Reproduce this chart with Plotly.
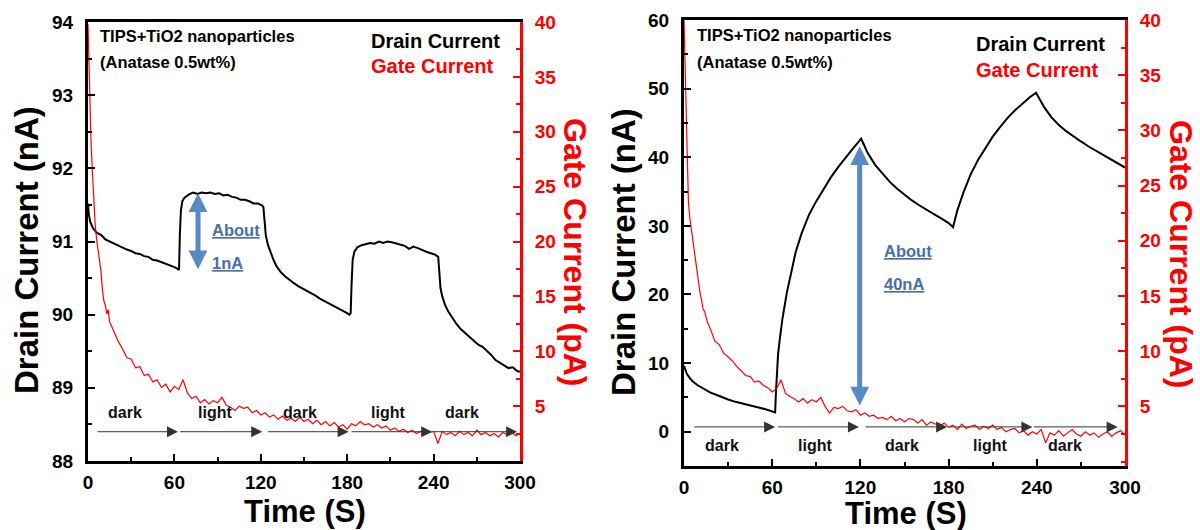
import plotly.graph_objects as go

# ---------------- Left panel data ----------------
t_drain_left = [0, 0.5, 1.5, 3.5, 6, 9, 12, 15, 18, 21, 24, 27, 30, 33, 36, 39, 42, 45, 48, 51, 54, 57, 60, 62,
                63.2, 63.8, 64.5, 65.5, 67, 70, 73, 76, 79, 82, 85, 88, 91, 94, 97, 100, 103, 106, 109, 112, 115,
                118, 121, 121.8, 122.6, 123.5, 125, 127, 129, 131, 134, 137, 140, 143, 146, 149, 152, 155, 158,
                161, 164, 167, 170, 173, 176, 179, 181.5, 182.4, 183, 183.8, 185, 187, 190, 193, 196, 199, 202,
                205, 208, 211, 214, 217, 220, 223, 226, 229, 232, 235, 238, 241, 243.2, 244, 244.8, 246, 248,
                250, 253, 256, 259, 262, 265, 268, 271, 274, 277, 280, 283, 286, 289, 292, 295, 298, 300]
drain_left = [91.52, 91.38, 91.27, 91.18, 91.12, 91.09, 91.03, 91.00, 90.97, 90.95, 90.91, 90.89, 90.87, 90.84,
              90.83, 90.80, 90.79, 90.75, 90.74, 90.72, 90.69, 90.68, 90.65, 90.63,
              90.61, 91.10, 91.42, 91.55, 91.60, 91.64, 91.67, 91.65, 91.67, 91.66, 91.67, 91.65, 91.66, 91.63,
              91.64, 91.61, 91.60, 91.57, 91.57, 91.55, 91.52, 91.52, 91.49, 91.47, 91.25, 91.08, 90.95, 90.83,
              90.74, 90.66, 90.58, 90.52, 90.47, 90.43, 90.39, 90.36, 90.32, 90.30, 90.26, 90.22, 90.19, 90.15,
              90.12, 90.09, 90.06, 90.03, 90.00, 90.02, 90.40, 90.75, 90.86, 90.92, 90.95, 90.96, 90.98, 90.97,
              91.00, 90.98, 91.00, 90.99, 90.97, 90.96, 90.94, 90.90, 90.93, 90.91, 90.88, 90.86, 90.84, 90.82,
              90.79, 90.55, 90.36, 90.25, 90.13, 90.05, 89.95, 89.87, 89.80, 89.75, 89.70, 89.64, 89.59, 89.56,
              89.51, 89.45, 89.38, 89.34, 89.31, 89.27, 89.28, 89.23, 89.22]

t_gate_left = [0, 1, 2, 3, 4, 5, 6, 7, 8, 9, 10, 11, 12, 13, 14, 15, 16,
               18, 21, 24, 27, 30, 33, 36, 39, 42, 45, 48, 51, 54, 57, 60, 63, 66, 69, 72, 75, 78, 81, 84, 87,
               90, 93, 96, 99, 102, 105, 108, 111, 114, 117, 120, 123, 126, 129, 132, 135, 138, 141, 144, 147,
               150, 153, 156, 159, 162, 165, 168, 171, 174, 177, 180, 183, 186, 189, 192, 195, 198, 201, 204,
               207, 210, 213, 216, 219, 222, 225, 228, 231, 234, 237, 240, 243, 246, 249, 252, 255, 258, 261,
               264, 267, 270, 273, 276, 279, 282, 285, 288, 291, 294, 297, 300]
gate_left = [39.8, 33.0, 29.5, 26.5, 23.5, 21.5, 20.2, 19.3, 18.4, 17.3, 15.6, 14.6, 14.2, 13.4, 13.8, 12.7, 12.4,
             11.8, 10.9, 10.2, 9.4, 9.3, 8.5, 8.6, 7.8, 7.9, 7.2, 7.4, 6.7, 7.0, 6.3, 6.8, 6.5, 7.4, 6.2, 5.7,
             5.9, 5.3, 5.6, 5.2, 5.5, 5.3, 5.8, 5.1, 4.9, 4.6, 5.0, 4.8, 4.9, 4.4, 4.6, 4.2, 4.4, 4.0, 4.2, 3.8,
             4.1, 3.7, 3.9, 3.6, 4.0, 3.6, 3.8, 3.4, 3.7, 3.3, 3.6, 3.2, 3.5, 3.1, 3.3, 2.9, 3.4, 3.2, 3.6, 3.3,
             3.4, 3.1, 3.3, 3.0, 3.2, 2.8, 3.0, 2.7, 2.9, 2.6, 2.8, 2.5, 2.7, 2.4, 2.6, 2.7, 1.6, 2.7, 2.4, 2.6,
             2.3, 2.7, 2.4, 2.6, 2.3, 2.8, 2.4, 2.6, 2.3, 2.5, 2.2, 2.6, 2.4, 2.7, 2.3, 2.5]

# ---------------- Right panel data ----------------
t_drain_right = [0, 1, 2, 4, 6, 9, 12, 15, 18, 21, 25, 30, 35, 40, 45, 50, 55, 58, 61, 62, 62.6, 63.2, 64, 65,
                 67, 70, 73, 76, 80, 85, 90, 95, 100, 105, 110, 115, 119, 120.5, 122, 125, 130, 135, 140, 145,
                 150, 155, 160, 165, 170, 175, 180, 183, 184, 186, 190, 195, 200, 205, 210, 215, 220, 225, 230,
                 235, 239.5, 241, 245, 250, 255, 260, 265, 270, 275, 280, 285, 290, 295, 300]
drain_right = [9.6, 8.9, 8.4, 7.8, 7.3, 6.8, 6.4, 6.0, 5.7, 5.45, 5.1, 4.7, 4.35, 4.05, 3.8, 3.55, 3.3, 3.1, 2.9,
               2.8, 6.0, 9.0, 11.3, 13.2, 16.5, 20.3, 23.5, 26.2, 28.9, 31.6, 33.6, 35.4, 37.1, 38.6, 40.0, 41.3,
               42.3, 42.7, 42.0, 40.6, 38.9, 37.6, 36.4, 35.4, 34.5, 33.7, 33.0, 32.3, 31.7, 31.1, 30.4, 29.8,
               30.6, 32.3, 34.8, 37.5, 39.6, 41.4, 43.0, 44.4, 45.7, 46.8, 47.8, 48.7, 49.4, 48.8, 47.3, 45.8,
               44.7, 43.8, 43.0, 42.3, 41.6, 41.0, 40.4, 39.7, 39.1, 38.5]

t_gate_right = t_gate_left
gate_right = [40.0, 33.5, 28.0, 23.5, 22.0, 21.0, 20.0, 19.2, 18.3, 17.0, 15.8, 15.2, 14.6, 13.8, 13.6, 13.1, 12.6,
              12.0, 10.9, 10.6, 9.8, 9.5, 9.1, 8.6, 8.2, 7.8, 7.7, 7.2, 7.3, 6.9, 6.7, 6.3, 6.6, 7.4, 6.2, 5.9,
              5.7, 5.4, 5.7, 5.3, 5.6, 5.4, 5.8, 5.0, 4.4, 4.9, 4.8, 5.0, 4.6, 4.5, 4.7, 4.2, 4.4, 4.1, 4.2, 3.9,
              4.0, 3.8, 4.1, 3.7, 3.9, 3.6, 3.9, 3.8, 3.5, 3.8, 3.3, 3.6, 3.4, 3.2, 3.5, 3.1, 3.3, 2.9, 3.4, 3.0,
              3.2, 3.3, 2.9, 3.2, 3.0, 3.3, 2.9, 3.1, 2.7, 2.9, 3.0, 2.6, 2.8, 2.4, 2.7, 2.5, 2.9, 1.7, 2.6, 2.4,
              2.8, 2.3, 2.6, 2.9, 2.5, 2.3, 2.7, 2.4, 2.6, 2.2, 2.5, 2.7, 2.3, 2.6, 2.8, 2.4]

# ---------------- Annotations data ----------------
x_ticks = [0, 60, 120, 180, 240, 300]
phase_labels = ["dark", "light", "dark", "light", "dark"]
phase_start_left = [5.6, 63, 124, 182, 239]
phase_end_left = [62.5, 121, 181, 239, 298]
phase_label_x_left = [26, 88, 147, 208, 260]
phase_arrow_y_left = 88.4
phase_label_y_left = 88.66
phase_start_right = [6, 63, 122.5, 180, 237]
phase_end_right = [62, 119, 179, 237, 295]
phase_label_x_right = [26, 89, 148, 208, 259]
phase_arrow_y_right = 0.7
phase_label_y_right = -2.0

W, H = 1200, 530
FONT = "Arial, 'Liberation Sans', sans-serif"
RED = "#FF0000"
BLUE_ARROW = "#5A88C4"
BLUE_TEXT = "#4A6EA6"


def px(xp):
    return xp / W


def py(yp):
    return 1 - yp / H


fig = go.Figure()
fig.add_trace(go.Scatter(x=t_drain_left, y=drain_left, mode="lines", line=dict(color="black", width=2),
                         xaxis="x", yaxis="y", showlegend=False))
fig.add_trace(go.Scatter(x=t_gate_left, y=gate_left, mode="lines", line=dict(color=RED, width=1.2),
                         xaxis="x", yaxis="y2", showlegend=False))
fig.add_trace(go.Scatter(x=t_drain_right, y=drain_right, mode="lines", line=dict(color="black", width=2),
                         xaxis="x2", yaxis="y3", showlegend=False))
fig.add_trace(go.Scatter(x=t_gate_right, y=gate_right, mode="lines", line=dict(color=RED, width=1.2),
                         xaxis="x2", yaxis="y4", showlegend=False))

tickfont_k = dict(family=FONT, size=19, color="black", weight="bold")
tickfont_r = dict(family=FONT, size=19, color=RED, weight="bold")


def xax(domain, anchor):
    return dict(domain=domain, anchor=anchor, range=[0, 300], tickvals=x_ticks, ticks="inside", ticklen=7,
                tickwidth=2, tickcolor="black", minor=dict(dtick=30, tick0=0, ticks="inside", ticklen=4,
                                                           tickwidth=2, tickcolor="black"),
                showline=True, linewidth=3, linecolor="black", mirror=True, showgrid=False, zeroline=False,
                tickfont=tickfont_k, ticklabelstandoff=2, automargin=False, fixedrange=True)


def yax(domain, anchor, rng, dtick, mdtick, tick0):
    return dict(domain=domain, anchor=anchor, range=rng, dtick=dtick, tick0=tick0, ticks="inside", ticklen=7,
                tickwidth=2, tickcolor="black",
                minor=dict(dtick=mdtick, tick0=tick0, ticks="inside", ticklen=4, tickwidth=2, tickcolor="black"),
                showline=True, linewidth=3, linecolor="black", showgrid=False, zeroline=False,
                tickfont=tickfont_k, ticklabelstandoff=8, automargin=False, fixedrange=True)


def yax_r(overlay, anchor, rng):
    return dict(overlaying=overlay, anchor=anchor, side="right", range=rng, dtick=5, tick0=0, ticks="inside",
                ticklen=7, tickwidth=2, tickcolor=RED,
                minor=dict(dtick=2.5, tick0=0, ticks="inside", ticklen=4, tickwidth=2, tickcolor=RED),
                showline=True, linewidth=3, linecolor=RED, showgrid=False, zeroline=False,
                tickfont=tickfont_r, ticklabelstandoff=8, automargin=False, fixedrange=True,
                tickvals=[5, 10, 15, 20, 25, 30, 35, 40])


dom_y_left = [py(461), py(22)]
dom_y_right = [py(466), py(20)]

fig.update_layout(
    width=W, height=H, margin=dict(l=0, r=0, t=0, b=0),
    paper_bgcolor="white", plot_bgcolor="white",
    xaxis=xax([px(88), px(520)], "y"),
    yaxis=yax(dom_y_left, "x", [88, 94], 1, 0.5, 88),
    yaxis2=yax_r("y", "x", [0, 40]),
    xaxis2=xax([px(684), px(1125)], "y3"),
    yaxis3=yax(dom_y_right, "x2", [-5, 60], 10, 5, 0),
    yaxis4=yax_r("y3", "x2", [-0.4, 40]),
)

ann = []
# panel texts
for x0, y1, y2 in [(98, 36, 62), (695, 35, 62)]:
    ann.append(dict(xref="paper", yref="paper", x=px(x0), y=py(y1), xanchor="left", yanchor="middle",
                    text="TIPS+TiO2 nanoparticles", showarrow=False,
                    font=dict(family=FONT, size=16.5, color="black", weight="bold")))
    ann.append(dict(xref="paper", yref="paper", x=px(x0), y=py(y2), xanchor="left", yanchor="middle",
                    text="(Anatase 0.5wt%)", showarrow=False,
                    font=dict(family=FONT, size=16.5, color="black", weight="bold")))
for x0, y1, y2 in [(369, 41, 66), (974, 44, 70)]:
    ann.append(dict(xref="paper", yref="paper", x=px(x0), y=py(y1), xanchor="left", yanchor="middle",
                    text="Drain Current", showarrow=False,
                    font=dict(family=FONT, size=20, color="black", weight="bold")))
    ann.append(dict(xref="paper", yref="paper", x=px(x0), y=py(y2), xanchor="left", yanchor="middle",
                    text="Gate Current", showarrow=False,
                    font=dict(family=FONT, size=20, color=RED, weight="bold")))

# axis titles
title_font_k = dict(family=FONT, size=33, color="black", weight="bold")
title_font_x = dict(family=FONT, size=31, color="black", weight="bold")
title_font_r = dict(family=FONT, size=32, color=RED, weight="bold")
ann.append(dict(xref="paper", yref="paper", x=px(26), y=py(250), text="Drain Current (nA)", textangle=-90,
                showarrow=False, font=title_font_k, xanchor="center", yanchor="middle"))
ann.append(dict(xref="paper", yref="paper", x=px(575), y=py(252), text="Gate Current (pA)", textangle=90,
                showarrow=False, font=title_font_r, xanchor="center", yanchor="middle"))
ann.append(dict(xref="paper", yref="paper", x=px(623), y=py(252), text="Drain Current (nA)", textangle=-90,
                showarrow=False, font=title_font_k, xanchor="center", yanchor="middle"))
ann.append(dict(xref="paper", yref="paper", x=px(1181), y=py(254), text="Gate Current (pA)", textangle=90,
                showarrow=False, font=title_font_r, xanchor="center", yanchor="middle"))
ann.append(dict(xref="paper", yref="paper", x=px(305), y=py(511), text="Time (S)", showarrow=False,
                font=title_font_x, xanchor="center", yanchor="middle"))
ann.append(dict(xref="paper", yref="paper", x=px(906), y=py(513), text="Time (S)", showarrow=False,
                font=title_font_x, xanchor="center", yanchor="middle"))

# dark / light phase arrows and labels
phase_font = dict(family=FONT, size=16, color="#111111", weight="bold")
for xr, yr, starts, ends, lx, ay, ly in [
    ("x", "y", phase_start_left, phase_end_left, phase_label_x_left, phase_arrow_y_left, phase_label_y_left),
    ("x2", "y3", phase_start_right, phase_end_right, phase_label_x_right, phase_arrow_y_right, phase_label_y_right),
]:
    for s, e in zip(starts, ends):
        ann.append(dict(xref=xr, yref=yr, axref=xr, ayref=yr, x=e, y=ay, ax=s, ay=ay, text="",
                        showarrow=True, arrowhead=2, arrowsize=2.2, arrowwidth=1, arrowcolor="#333333",
                        standoff=0, startstandoff=0))
    for lab, x0 in zip(phase_labels, lx):
        ann.append(dict(xref=xr, yref=yr, x=x0, y=ly, text=lab, showarrow=False, font=phase_font,
                        xanchor="center", yanchor="middle"))

# blue "About" arrows
ann.append(dict(xref="x", yref="y", axref="x", ayref="y", x=76.4, y=91.66, ax=76.4, ay=90.6, text="",
                showarrow=True, arrowhead=2, arrowside="end+start", arrowsize=0.75, arrowwidth=5,
                arrowcolor=BLUE_ARROW, standoff=0, startstandoff=0))
ann.append(dict(xref="x", yref="y", x=85, y=91.16, text="<u>About</u>", showarrow=False, xanchor="left",
                yanchor="middle", font=dict(family=FONT, size=16.5, color=BLUE_TEXT, weight="bold")))
ann.append(dict(xref="x", yref="y", x=85, y=90.70, text="<u>1nA</u>", showarrow=False, xanchor="left",
                yanchor="middle", font=dict(family=FONT, size=16.5, color=BLUE_TEXT, weight="bold")))
ann.append(dict(xref="x2", yref="y3", axref="x2", ayref="y3", x=119.5, y=41.6, ax=119.5, ay=3.6, text="",
                showarrow=True, arrowhead=2, arrowside="end+start", arrowsize=0.75, arrowwidth=5,
                arrowcolor=BLUE_ARROW, standoff=0, startstandoff=0))
ann.append(dict(xref="x2", yref="y3", x=135, y=26.3, text="<u>About</u>", showarrow=False, xanchor="left",
                yanchor="middle", font=dict(family=FONT, size=16.5, color=BLUE_TEXT, weight="bold")))
ann.append(dict(xref="x2", yref="y3", x=135, y=21.5, text="<u>40nA</u>", showarrow=False, xanchor="left",
                yanchor="middle", font=dict(family=FONT, size=16.5, color=BLUE_TEXT, weight="bold")))

fig.update_layout(annotations=ann)
fig.write_html("out.html", config={"displayModeBar": False},
               post_script="document.body.style.margin='0';document.body.style.padding='0';")
